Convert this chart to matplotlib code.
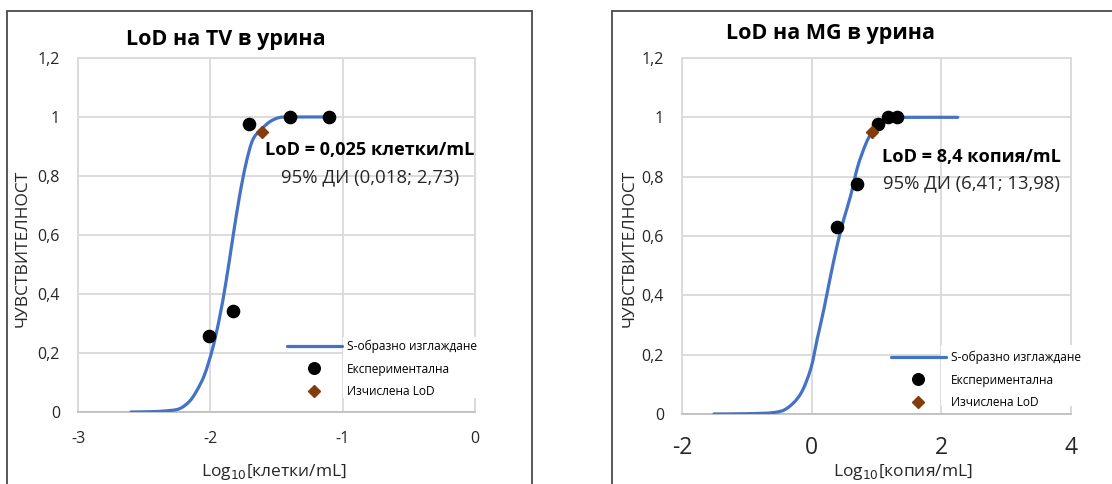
import matplotlib
matplotlib.use("Agg")
import matplotlib.pyplot as plt
from matplotlib.patches import Rectangle, PathPatch
from matplotlib.path import Path
from matplotlib.lines import Line2D

plt.rcParams['font.family'] = ['Open Sans', 'DejaVu Sans']

# ---------------- data ----------------
# Left panel: TV in urine
tv_curve_x = [-2.60, -2.45, -2.33, -2.234, -2.16, -2.108, -2.045, -1.983, -1.932,
              -1.882, -1.832, -1.78, -1.73, -1.68, -1.62, -1.55, -1.48, -1.40, -1.10]
tv_curve_y = [0.0, 0.001, 0.004, 0.011, 0.035, 0.068, 0.125, 0.215, 0.316,
              0.44, 0.585, 0.73, 0.843, 0.922, 0.956, 0.984, 0.998, 1.0, 1.0]
tv_exp_x = [-2.01, -1.83, -1.705, -1.40, -1.10]
tv_exp_y = [0.257, 0.341, 0.976, 1.0, 1.0]
tv_lod_x = [-1.61]
tv_lod_y = [0.95]

# Right panel: MG in urine
mg_curve_x = [-1.508, -1.0, -0.582, -0.375, -0.17, -0.015, 0.088, 0.19, 0.293,
              0.40, 0.50, 0.60, 0.71, 0.838, 0.93, 1.045, 1.2, 1.5, 2.253]
mg_curve_y = [0.0, 0.001, 0.005, 0.02, 0.068, 0.152, 0.255, 0.355, 0.467,
              0.575, 0.66, 0.735, 0.834, 0.912, 0.95, 0.98, 0.998, 1.0, 1.0]
mg_exp_x = [0.397, 0.694, 1.019, 1.173, 1.317]
mg_exp_y = [0.629, 0.774, 0.976, 1.0, 1.0]
mg_lod_x = [0.925]
mg_lod_y = [0.949]

y_ticks = [0, 0.2, 0.4, 0.6, 0.8, 1.0, 1.2]
y_ticklabels = ['0', '0,2', '0,4', '0,6', '0,8', '1', '1,2']
tv_x_ticks = [-3, -2, -1, 0]
mg_x_ticks = [-2, 0, 2, 4]

legend_labels = ['S-образно изглаждане', 'Експериментална', 'Изчислена LoD']
y_label = 'ЧУВСТВИТЕЛНОСТ'

# ---------------- figure ----------------
W, H = 1112, 484
fig = plt.figure(figsize=(W / 100, H / 100), dpi=100)
fig.patch.set_facecolor('white')


def fx(px):
    return px / W


def fy(py):
    return 1 - py / H


BLUE = '#4472c4'
BROWN = '#843c0c'
GRID = '#d9d9d9'
TXT = '#000000'
TICK = '#262626'

# panel borders
for (x0, x1) in [(7, 532), (612, 1140)]:
    fig.patches.append(Rectangle((fx(x0), fy(520)), fx(x1 - x0), (520 - 11) / H,
                                 transform=fig.transFigure, fill=False,
                                 edgecolor='#4a4a4a', linewidth=1.3, zorder=0))


def smooth_path(xs, ys):
    """Smooth (Catmull-Rom style) Bezier path through the read points,
    like the spreadsheet's smoothed line."""
    pts = list(zip(xs, ys))
    verts = [pts[0]]
    codes = [Path.MOVETO]
    n = len(pts)
    for i in range(n - 1):
        p0 = pts[i - 1] if i > 0 else pts[i]
        p1 = pts[i]
        p2 = pts[i + 1]
        p3 = pts[i + 2] if i + 2 < n else pts[i + 1]
        c1 = (p1[0] + (p2[0] - p0[0]) / 6.0, p1[1] + (p2[1] - p0[1]) / 6.0)
        c2 = (p2[0] - (p3[0] - p1[0]) / 6.0, p2[1] - (p3[1] - p1[1]) / 6.0)
        verts += [c1, c2, p2]
        codes += [Path.CURVE4, Path.CURVE4, Path.CURVE4]
    return Path(verts, codes)


def make_panel(rect, cx, cy, ex, ey, lx, ly, xlim, xticks, xtick_fs, xtick_pad,
               title, title_xy, xlabel, xlabel_xy, ylabel_x,
               ann1, ann2, ann_cx, ann_y1, ann_y2, ann_fs, leg_xy, leg_box):
    ax = fig.add_axes(rect)
    ax.set_xlim(*xlim)
    ax.set_ylim(0, 1.2)
    ax.set_xticks(xticks)
    ax.set_xticklabels([str(t) for t in xticks], fontsize=xtick_fs, color=TICK)
    ax.set_yticks(y_ticks)
    ax.set_yticklabels(y_ticklabels, fontsize=11.5, color=TICK)
    ax.tick_params(axis='both', length=0)
    ax.tick_params(axis='y', pad=13)
    ax.tick_params(axis='x', pad=xtick_pad)
    ax.grid(True, color=GRID, linewidth=1.3)
    ax.set_axisbelow(True)
    for s in ['left', 'top', 'right']:
        ax.spines[s].set_color(GRID)
        ax.spines[s].set_linewidth(1.3)
    ax.spines['bottom'].set_color('#bfbfbf')
    ax.spines['bottom'].set_linewidth(1.3)

    ax.add_patch(PathPatch(smooth_path(cx, cy), facecolor='none', edgecolor=BLUE,
                           linewidth=2.3, capstyle='round', joinstyle='round',
                           zorder=3))
    l1 = Line2D([], [], color=BLUE, linewidth=2.3, solid_capstyle='round',
                label=legend_labels[0])
    l2, = ax.plot(ex, ey, linestyle='none', marker='o', markersize=8.8,
                  color='black', zorder=4, label=legend_labels[1])
    l3, = ax.plot(lx, ly, linestyle='none', marker='D', markersize=6.3,
                  color=BROWN, zorder=5, label=legend_labels[2])

    # white legend background
    bx0, by0, bx1, by1 = leg_box
    ax.add_patch(Rectangle((fx(bx0), fy(by1)), fx(bx1 - bx0), (by1 - by0) / H,
                           transform=fig.transFigure, facecolor='white',
                           edgecolor='none', zorder=2.7, clip_on=False))
    leg = ax.legend(handles=[l1, l2, l3], loc='upper left',
                    bbox_to_anchor=(fx(leg_xy[0]), fy(leg_xy[1])),
                    bbox_transform=fig.transFigure, frameon=False,
                    fontsize=8.6, handlelength=4.6, handletextpad=0.45,
                    labelspacing=0.78, borderpad=0, borderaxespad=0,
                    markerscale=0.95)
    leg.set_zorder(6)

    fig.text(fx(title_xy[0]), fy(title_xy[1]), title, fontsize=15.5,
             fontweight='bold', ha='center', va='center', color=TXT)
    fig.text(fx(xlabel_xy[0]), fy(xlabel_xy[1]), xlabel, fontsize=12.5,
             ha='center', va='center', color=TICK)
    fig.text(fx(ylabel_x), fy(248), y_label, fontsize=12.5, rotation=90,
             ha='center', va='center', color=TICK)
    fig.text(fx(ann_cx), fy(ann_y1), ann1, fontsize=ann_fs[0], fontweight='bold',
             ha='center', va='center', color=TXT)
    fig.text(fx(ann_cx), fy(ann_y2), ann2, fontsize=ann_fs[1],
             ha='center', va='center', color=TICK)
    return ax


make_panel([fx(78), fy(412), fx(475 - 78), (412 - 58) / H],
           tv_curve_x, tv_curve_y, tv_exp_x, tv_exp_y, tv_lod_x, tv_lod_y,
           (-3, 0), tv_x_ticks, 11.5, 14,
           'LoD на TV в урина', (226, 40),
           'Log$_{10}$[клетки/mL]', (274, 472), 23,
           'LoD = 0,025 клетки/mL', '95% ДИ (0,018; 2,73)', 370, 150, 177,
           (13.1, 13.4), (287, 340), (343, 337, 477, 398))

make_panel([fx(682), fy(414), fx(1071 - 682), (414 - 58) / H],
           mg_curve_x, mg_curve_y, mg_exp_x, mg_exp_y, mg_lod_x, mg_lod_y,
           (-2, 4), mg_x_ticks, 16.5, 16,
           'LoD на MG в урина', (830, 34),
           'Log$_{10}$[копия/mL]', (903, 472), 630,
           'LoD = 8,4 копия/mL', '95% ДИ (6,41; 13,98)', 971, 157, 183,
           (13.1, 13.3), (891, 351), (941, 345, 1073, 406))

fig.savefig('out.png', dpi=100)
